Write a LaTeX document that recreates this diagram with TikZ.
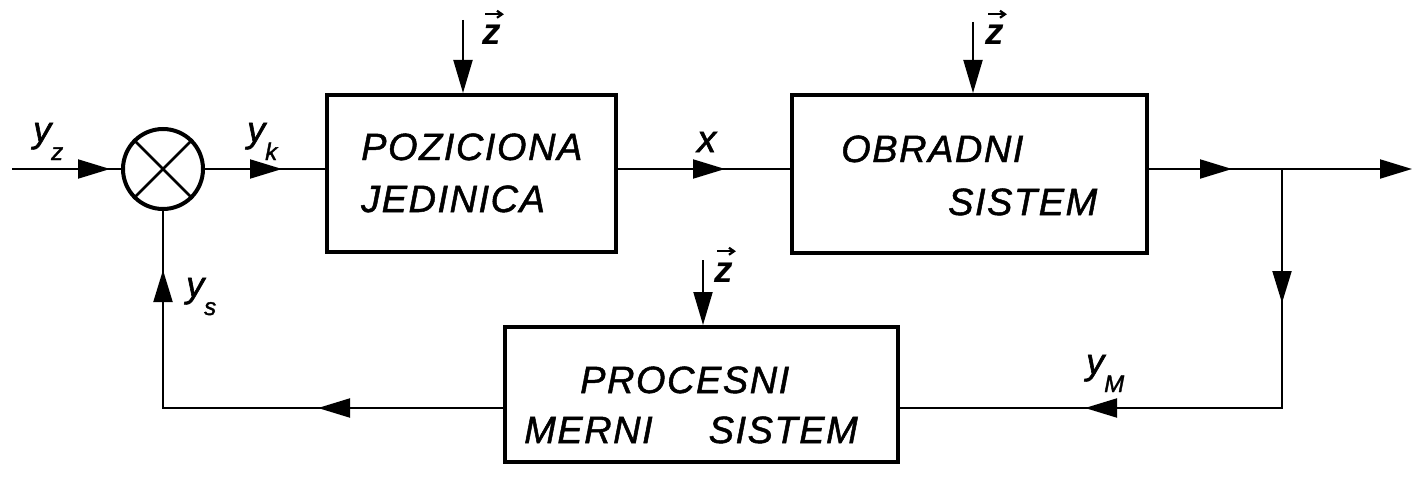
\documentclass[tikz,border=0pt]{standalone}
\usepackage{fontspec}
\setmainfont{Liberation Sans}
\newfontfamily\blkfont{Liberation Sans}[LetterSpace=4,FakeBold=1.3]
\newfontfamily\symfont{Liberation Sans}[FakeBold=1.6]
\usetikzlibrary{arrows.meta,decorations.markings}
\newcommand{\ylab}[1]{{\fontsize{36}{40}\selectfont\symfont\itshape y}\raisebox{-18pt}{\fontsize{24}{26}\selectfont\symfont\itshape #1}}
\begin{document}
\begin{tikzpicture}[x=1pt,y=-1pt,
  blk/.style={draw,line width=4pt,inner sep=0pt},
  conn/.style={line width=2pt},
  headtip/.tip={Triangle[length=32pt,width=19pt]},
  marr/.style={postaction={decorate},decoration={markings,mark=at position #1pt with {\arrow{headtip}}}},
  marrtwo/.style 2 args={postaction={decorate},decoration={markings,
      mark=at position #1pt with {\arrow{headtip}},
      mark=at position #2pt with {\arrow{headtip}}}},
  lbl/.style={font=\fontsize{38}{44}\selectfont\blkfont\itshape,inner sep=0pt,anchor=base west},
  sym/.style={inner sep=0pt,anchor=base west},
  zlab/.style={font=\fontsize{37}{40}\selectfont\bfseries\itshape,inner sep=0pt,anchor=base west},
  zbar/.style={line width=2.2pt,-{Straight Barb[length=5pt,width=7pt]}},
]
\useasboundingbox (0,0) rectangle (1412,487);

% blocks
\node[blk,minimum width=289pt,minimum height=157pt] (b1) at (471.5,173.5) {};
\node[blk,minimum width=355pt,minimum height=158pt] (b2) at (969.5,174) {};
\node[blk,minimum width=393pt,minimum height=135pt] (b3) at (701.5,394.5) {};

% summing junction
\node[circle,draw,line width=4pt,minimum size=80pt,inner sep=0pt] (sum) at (163,169) {};
\draw[line width=2.5pt] (sum.45) -- (sum.225) (sum.135) -- (sum.315);

% block texts
\node[lbl] (t1a) at (361,160) {POZICIONA};
\node[lbl] (t1b) at (361,212) {JEDINICA};
\node[lbl] (t2a) at (841,162) {OBRADNI};
\node[lbl] (t2b) at (948,215) {SISTEM};
\node[lbl] (t3a) at (580,393) {PROCESNI};
\node[lbl] (t3b) at (524,443) {MERNI\hspace{56pt}SISTEM};

% coordinates
\coordinate (in) at (12,169);
\coordinate (br) at (1282,169);
\coordinate (out) at (1412,169);
\coordinate (corner) at (1282,408);
\coordinate (d1) at (463,20);
\coordinate (d2) at (973,22);
\coordinate (d3) at (703,260);

% main path
\draw[conn,marr=98] (in) -- (sum.west);
\draw[conn,marr=77] (sum.east) -- (sum.east -| b1.west);
\draw[conn,marr=107] (b1.east |- sum) -- (b2.west |- sum);
\draw[conn,marr=83] (b2.east |- br) -- (br);
\draw[conn,-{headtip}] (br) -- (out);
% feedback
\draw[conn,marrtwo={134}{436}] (br) -- (corner) -- (corner -| b3.east);
\draw[conn,marrtwo={185}{478}] (b3.west |- corner) -- (corner -| sum) -- (sum.south);

% disturbances
\draw[conn,-{Triangle[length=33pt,width=19pt]}] (d1) -- (d1 |- b1.north);
\draw[conn,-{Triangle[length=33pt,width=19pt]}] (d2) -- (d2 |- b2.north);
\draw[conn,-{Triangle[length=33pt,width=19pt]}] (d3) -- (d3 |- b3.north);
\node[zlab] (z1) at (482,45) {z};
\node[zlab] (z2) at (985,45) {z};
\node[zlab] (z3) at (714,282) {z};
\draw[zbar] ([shift={(3pt,11pt)}]z1.north west) -- ([shift={(3pt,11pt)}]z1.north east);
\draw[zbar] ([shift={(3pt,11pt)}]z2.north west) -- ([shift={(3pt,11pt)}]z2.north east);
\draw[zbar] ([shift={(3pt,11pt)}]z3.north west) -- ([shift={(3pt,11pt)}]z3.north east);

% signal labels
\node[sym] (lyz) at (33,142) {\ylab{z}};
\node[sym] (lyk) at (247,142) {\ylab{k}};
\node[sym] (lys) at (186,297) {\ylab{s}};
\node[sym] (lym) at (1086,374) {\ylab{M}};
\node[sym,font=\fontsize{38}{40}\selectfont\symfont\itshape] (lx) at (697,152) {x};
\end{tikzpicture}
\end{document}
